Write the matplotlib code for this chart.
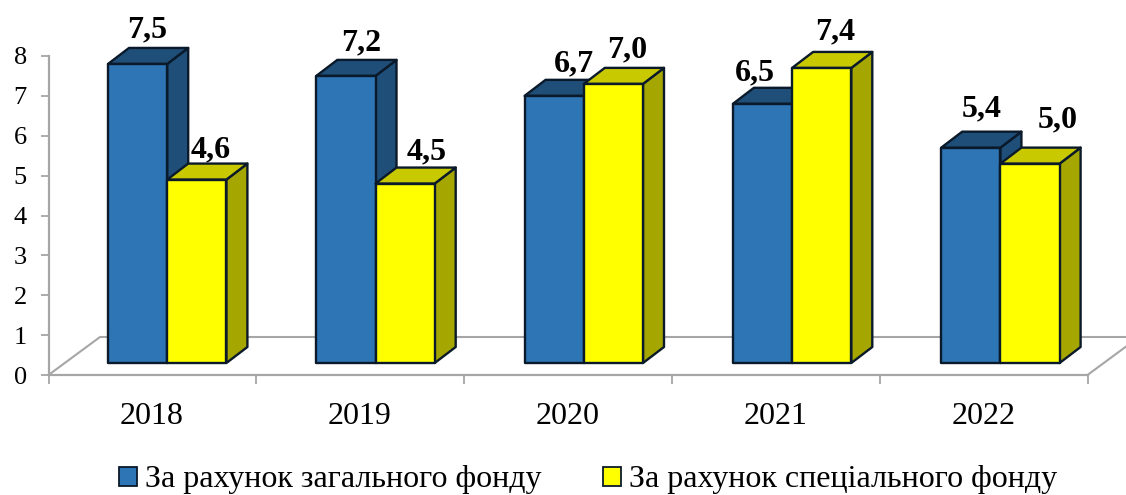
import matplotlib
matplotlib.use("Agg")
import matplotlib.pyplot as plt
from matplotlib.patches import Polygon, Patch

plt.rcParams['font.family'] = ['Liberation Serif', 'DejaVu Serif']

years = ['2018', '2019', '2020', '2021', '2022']
general_fund = [7.5, 7.2, 6.7, 6.5, 5.4]
special_fund = [4.6, 4.5, 7.0, 7.4, 5.0]
label_general = ['7,5', '7,2', '6,7', '6,5', '5,4']
label_special = ['4,6', '4,5', '7,0', '7,4', '5,0']
series_names = ['За рахунок загального фонду', 'За рахунок спеціального фонду']

# label nudges in pixels (dx from bar centre, dy above front top edge)
nudge_general = [(10, 34), (15, 33), (20, 32), (-8, 31), (11, 39)]
nudge_special = [(14, 30), (22, 32), (14, 34), (13, 36), (28, 44)]

W, H = 1126, 495
fig = plt.figure(figsize=(W / 100, H / 100), dpi=100, facecolor='white')
L, R, T, B = 48.5, 1087.5, 56.0, 375.0
ax = fig.add_axes([L / W, 1 - B / H, (R - L) / W, (B - T) / H])
ax.set_xlim(-0.5, 4.5)
ax.set_ylim(0, 8)
ax.patch.set_visible(False)

px = (R - L) / 5          # pixels per category
py = (B - T) / 8          # pixels per unit
GREY = '#A6A6A6'
EDGE = '#0B1A2A'

for s in ['top', 'right']:
    ax.spines[s].set_visible(False)
for s in ['left', 'bottom']:
    ax.spines[s].set_color(GREY)
    ax.spines[s].set_linewidth(1.6)
ax.set_yticks(range(0, 9))
ax.set_xticks([i - 0.5 for i in range(6)])
ax.set_xticklabels([])
ax.tick_params(axis='y', color=GREY, width=1.3, length=5.5, labelsize=19, pad=10)
ax.tick_params(axis='x', color=GREY, width=1.3, length=6.5)

for i, y in enumerate(years):
    ax.annotate(y, (i, 0), xytext=(-1 + 0.35 * i, -41), textcoords='offset pixels',
                ha='center', va='center', fontsize=23, color='black', annotation_clip=False)

# floor
fdx, fdy = 51.5 / px, 38.0 / py
ax.plot([-0.5, -0.5 + fdx, 4.5 + fdx], [0, fdy, fdy], color=GREY, lw=1.5, clip_on=False, zorder=1)
ax.plot([4.5, 4.5 + fdx], [0, fdy], color=GREY, lw=1.5, clip_on=False, zorder=1)

# bars
bw = 59.2 / px
shift = 14.8 / px
step = 208.3 / px
base = (B - 363.0) / py
ddx, ddy = 21.0 / px, 16.0 / py


def bar3d(x0, value, front, top, side, z):
    x1 = x0 + bw
    y0, y1 = base, base + value
    kw = dict(edgecolor=EDGE, linewidth=1.7, joinstyle='round', clip_on=False, zorder=z)
    ax.add_patch(Polygon([(x1, y0), (x1 + ddx, y0 + ddy), (x1 + ddx, y1 + ddy), (x1, y1)], facecolor=side, **kw))
    ax.add_patch(Polygon([(x0, y1), (x1, y1), (x1 + ddx, y1 + ddy), (x0 + ddx, y1 + ddy)], facecolor=top, **kw))
    ax.add_patch(Polygon([(x0, y0), (x1, y0), (x1, y1), (x0, y1)], facecolor=front, **kw))


def value_label(xc, value, text, nudge):
    ax.annotate(text, (xc, base + value), xytext=nudge, textcoords='offset pixels',
                ha='center', va='center', fontsize=23, fontweight='bold', color='black',
                zorder=20, annotation_clip=False)


for i in range(len(years)):
    c = i * step + shift
    bar3d(c - bw, general_fund[i], '#2E75B6', '#1F4E79', '#1F4E79', 5 + i)
    bar3d(c, special_fund[i], '#FFFF00', '#C9C900', '#A6A600', 5.5 + i)
    value_label(c - bw / 2, general_fund[i], label_general[i], nudge_general[i])
    value_label(c + bw / 2, special_fund[i], label_special[i], nudge_special[i])

handles = [Patch(facecolor='#2E75B6', edgecolor=EDGE, linewidth=1.3),
           Patch(facecolor='#FFFF00', edgecolor=EDGE, linewidth=1.3)]
fig.legend(handles, series_names, loc='center', bbox_to_anchor=(588 / W, 1 - 480 / H),
           ncol=2, frameon=False, fontsize=23, handlelength=0.55, handleheight=0.55,
           handletextpad=0.25, columnspacing=1.95, borderpad=0, borderaxespad=0)

fig.savefig('out.png', dpi=100, facecolor='white')
